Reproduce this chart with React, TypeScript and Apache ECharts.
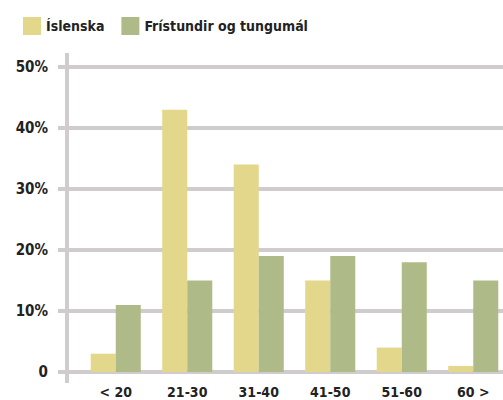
import React, { useEffect, useRef } from "react";
import * as echarts from "echarts";

const categories = ["< 20", "21-30", "31-40", "41-50", "51-60", "60 >"];
const islenska = [3, 43, 34, 15, 4, 1];
const fristundir = [11, 15, 19, 19, 18, 15];
const seriesNames = ["Íslenska", "Frístundir og tungumál"];
const yMin = 0;
const yMax = 50;
const yInterval = 10;

const FONT = "'DejaVu Sans Condensed', 'DejaVu Sans', sans-serif";
const GRID_COLOR = "#d0cccd";

export default function App() {
  const ref = useRef<HTMLDivElement>(null);
  useEffect(() => {
    if (!ref.current) return;
    const chart = echarts.init(ref.current, null, { renderer: "svg" });
    chart.setOption({
      animation: false,
      backgroundColor: "#ffffff",
      legend: {
        left: 18,
        top: 12,
        itemWidth: 18,
        itemHeight: 18,
        itemGap: 17,
        icon: "rect",
        textStyle: { fontFamily: FONT, fontWeight: "bold", fontSize: 14, color: "#222222" },
        data: seriesNames,
      },
      grid: { left: 80, right: -6, top: 67, bottom: 28, outerBoundsMode: "none", containLabel: false },
      xAxis: {
        type: "category",
        data: categories,
        axisLine: { show: false },
        axisTick: { show: false },
        axisLabel: {
          margin: 13,
          fontFamily: FONT,
          fontWeight: "bold",
          fontSize: 14,
          lineHeight: 14,
          color: "#222222",
        },
      },
      yAxis: {
        type: "value",
        min: yMin,
        max: yMax,
        interval: yInterval,
        axisLine: { show: false },
        axisTick: { show: true, length: 22, lineStyle: { color: GRID_COLOR, width: 4 } },
        splitLine: { show: true, lineStyle: { color: GRID_COLOR, width: 4 } },
        axisLabel: {
          margin: 32,
          fontFamily: FONT,
          fontWeight: "bold",
          fontSize: 15,
          color: "#222222",
          formatter: (v: number) => (v === 0 ? "0" : v + "%"),
        },
      },
      graphic: [
        {
          type: "line",
          shape: { x1: 67, y1: 53, x2: 67, y2: 383 },
          style: { stroke: GRID_COLOR, lineWidth: 4 },
          z: 10,
        },
      ],
      series: [
        {
          name: seriesNames[0],
          type: "bar",
          data: islenska,
          barGap: "0%",
          barCategoryGap: "30%",
          itemStyle: { color: "#e3d78b" },
        },
        {
          name: seriesNames[1],
          type: "bar",
          data: fristundir,
          barGap: "0%",
          barCategoryGap: "30%",
          itemStyle: { color: "#aebb89" },
        },
      ],
    });
    return () => chart.dispose();
  }, []);
  return (
    <div
      ref={ref}
      style={{ position: "fixed", left: 0, top: 0, width: 503, height: 400 }}
    />
  );
}
